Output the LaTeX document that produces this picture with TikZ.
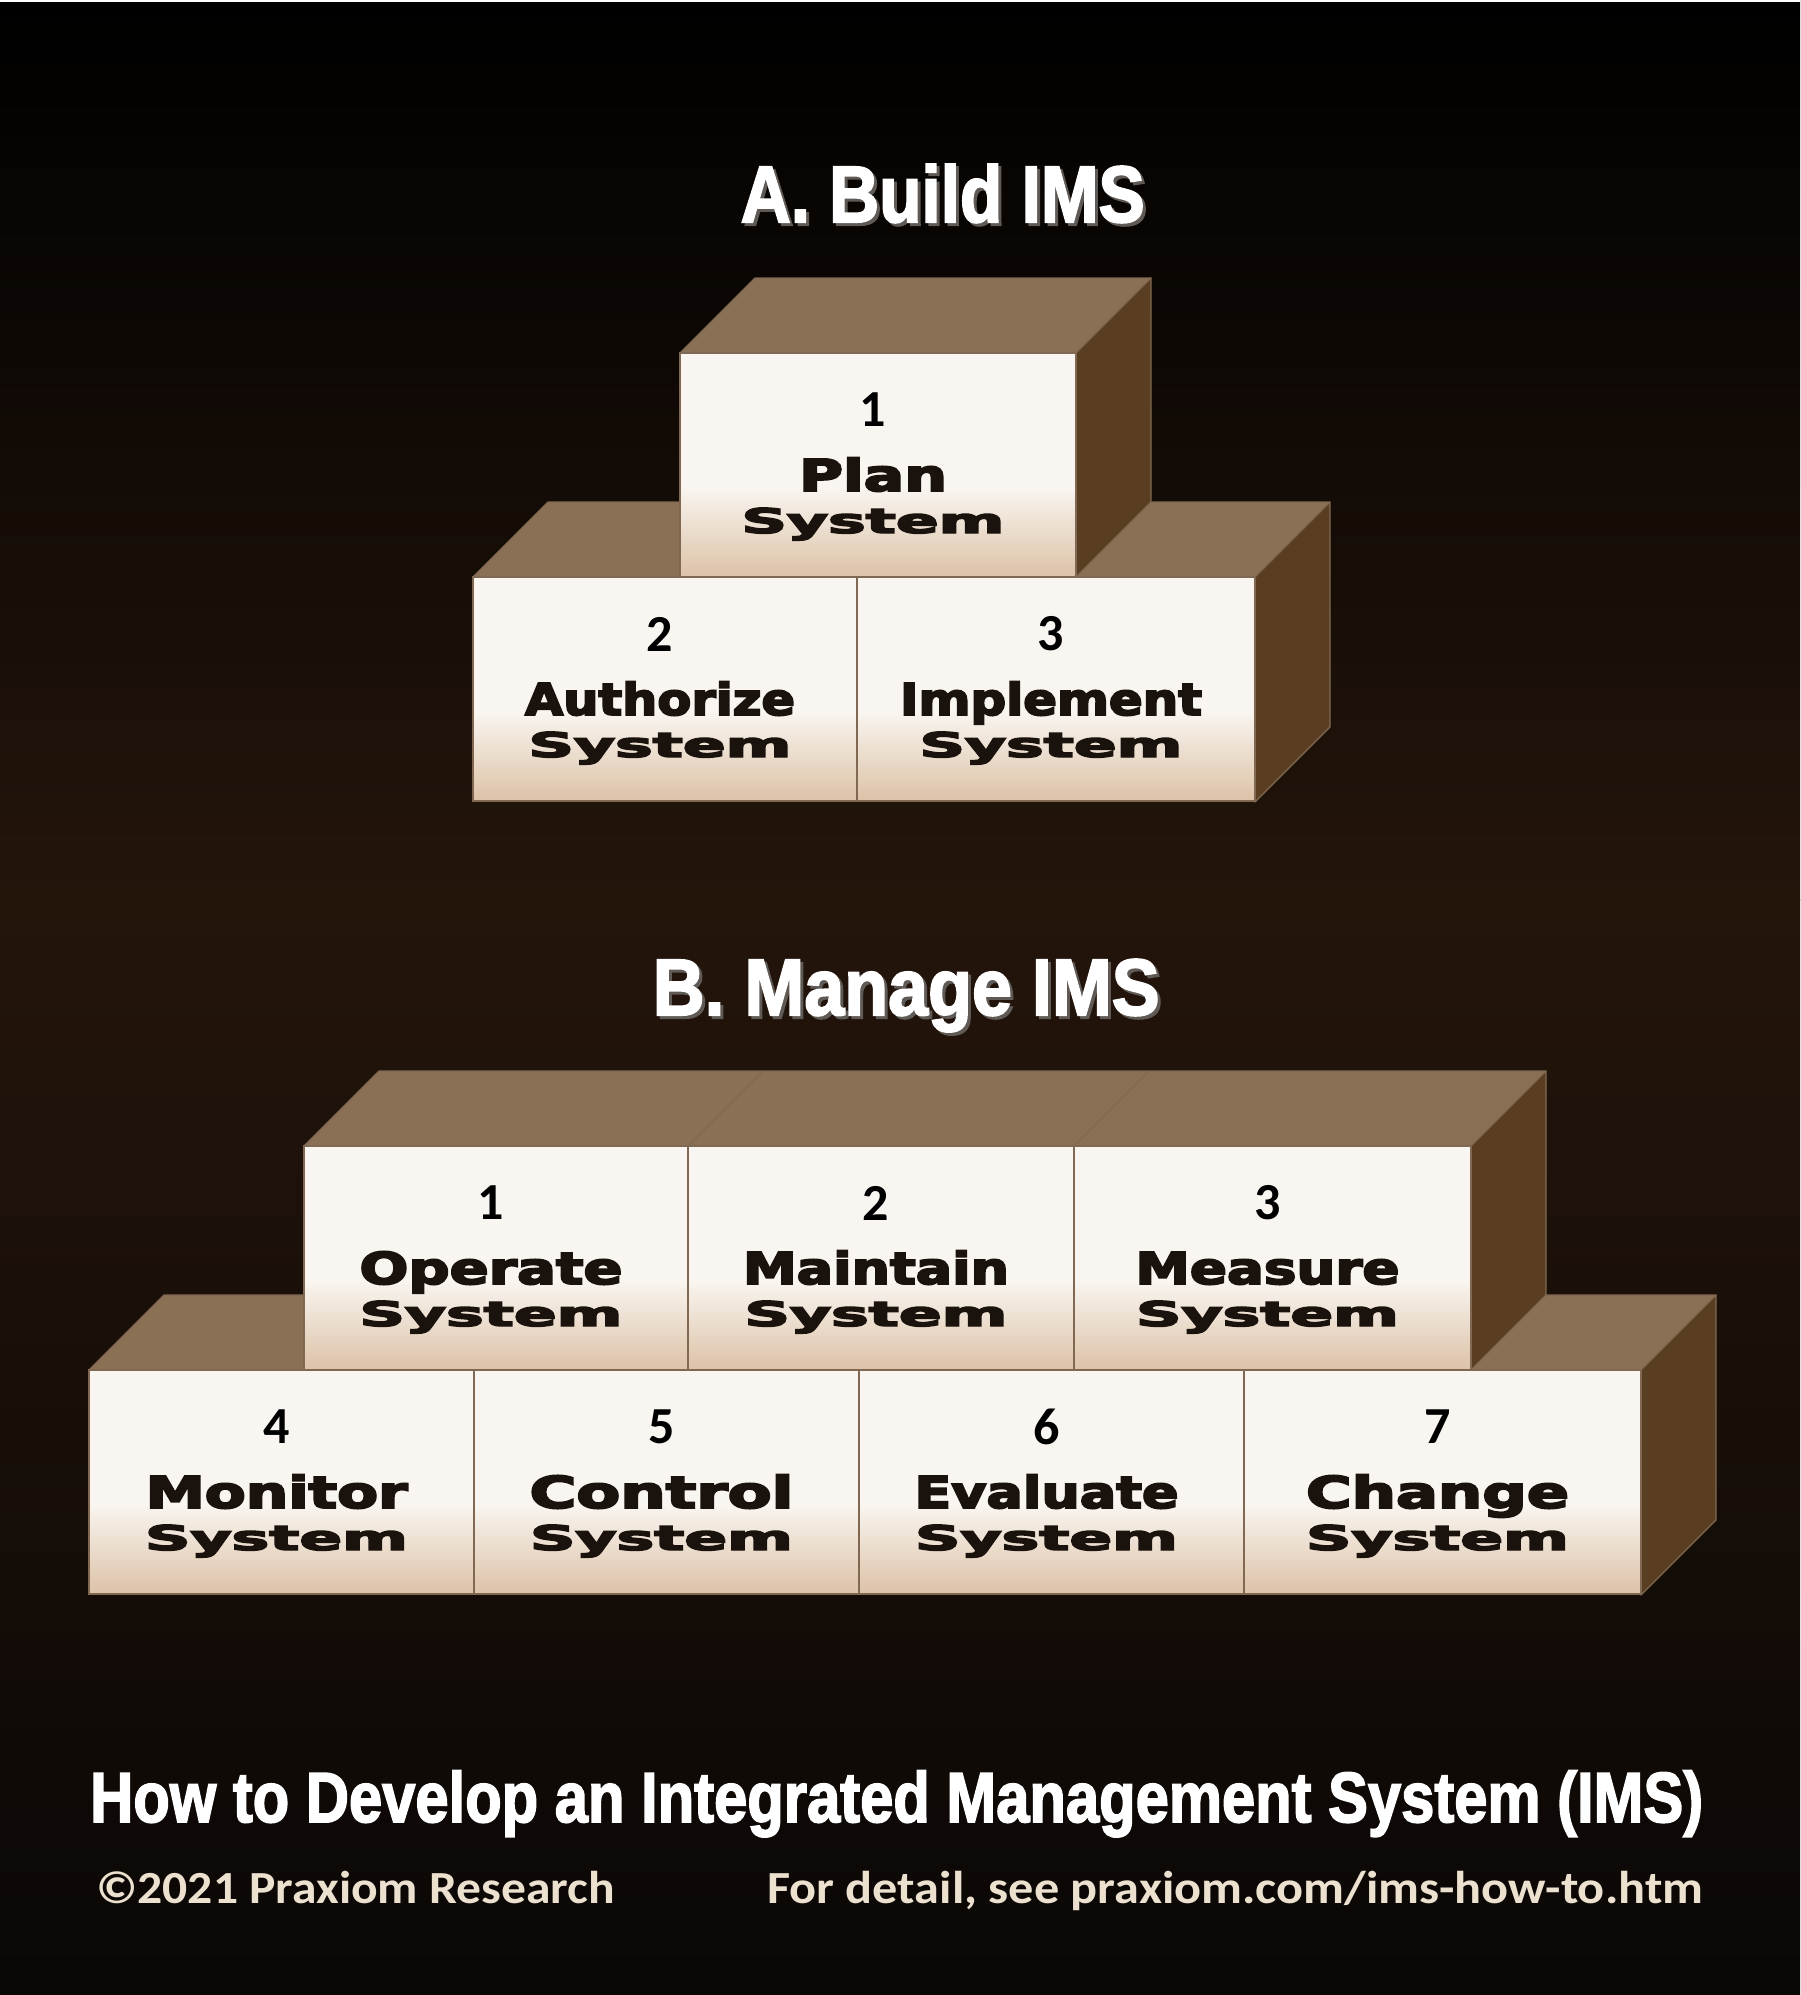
\documentclass[tikz,border=0pt]{standalone}
\usepackage{fontspec}
\usetikzlibrary{calc}
\newfontfamily\wordfont[BoldFeatures={FakeBold=4}]{DejaVu Sans}
\newfontfamily\numfont{Carlito}
\newfontfamily\titlefont[BoldFeatures={FakeBold=2.5}]{Liberation Sans}
\definecolor{topface}{RGB}{138,112,85}
\definecolor{sideface}{RGB}{90,62,34}
\definecolor{frontlight}{RGB}{249,245,240}
\definecolor{fronttan}{RGB}{220,194,167}
\definecolor{edgec}{RGB}{128,104,82}
\definecolor{txt}{RGB}{26,18,12}
\definecolor{bgmid}{RGB}{36,21,11}
\definecolor{bgmidb}{RGB}{30,17,9}
\definecolor{bgbot}{RGB}{10,7,5}
\definecolor{foot}{RGB}{236,224,206}
\definecolor{shadowc}{RGB}{95,90,85}
\pgfdeclareverticalshading{frontshade}{100bp}{color(0bp)=(fronttan); color(25bp)=(fronttan); color(45bp)=(frontlight); color(100bp)=(frontlight)}
\tikzset{
  front/.style={shading=frontshade, draw=edgec, line width=1.3pt, inner sep=0pt, outer sep=0pt, minimum height=224pt},
  topf/.style={fill=topface, draw=edgec, line width=1.2pt, line join=round},
  sidef/.style={fill=sideface, draw=edgec, line width=1.2pt, line join=round},
  numtxt/.style={inner sep=0pt, text=black, font={\numfont\bfseries\fontsize{52pt}{56pt}\selectfont}},
  wordtxt/.style={inner sep=0pt, anchor=base, text=txt, font={\wordfont\bfseries\fontsize{44pt}{50pt}\selectfont}},
  systxt/.style={inner sep=0pt, anchor=base, text=txt, font={\wordfont\bfseries\fontsize{34pt}{40pt}\selectfont}},
  titletxt/.style={inner sep=0pt, anchor=base west, text=white, font={\titlefont\bfseries\fontsize{80pt}{90pt}\selectfont}},
  foottitle/.style={inner sep=0pt, anchor=base west, text=white, font={\titlefont\bfseries\fontsize{71pt}{80pt}\selectfont}},
  footsmall/.style={inner sep=0pt, anchor=base west, text=foot, font={\numfont\bfseries\fontsize{46pt}{52pt}\selectfont}}
}
% #1 name, #2 x1, #3 x2, #4 ytop, #5 number, #6 word, #7 word width
\newcommand\cubefront[7]{%
  \node[front, minimum width={(#3-#2)*1pt}, anchor=north west] (#1) at (#2,#4) {};
  \node[numtxt] (#1n) at ($(#1.north)+(-5,57)$) {#5};
  \node[wordtxt] (#1w) at ($(#1.north)+(-5,138)$) {\resizebox{#7pt}{\height}{#6}};
  \node[systxt] (#1s) at ($(#1.north)+(-5,180)$) {\resizebox{263pt}{\height}{System}};
}
\begin{document}
\begin{tikzpicture}[x=1pt,y=-1pt]
\useasboundingbox (0,0) rectangle (1800,1995);
% background
\shade[top color=black, bottom color=bgmid] (0,0) rectangle (1800,900);
\shade[top color=bgmid, middle color=bgmidb, bottom color=bgbot] (0,899) rectangle (1800,1995);
\draw[white, line width=2pt] (0,1) -- (1800,1);

% ---------- A. Build IMS ----------
\node[titletxt, text=shadowc] (tashadow) at (743.5,225) {\resizebox{404pt}{\height}{A. Build IMS}};
\node[titletxt] (ta) at (740.5,222) {\resizebox{404pt}{\height}{A. Build IMS}};

% lower row back faces
\draw[topf] (473,577) -- (548,502) -- (1330,502) -- (1255,577) -- cycle;
\draw[sidef] (1255,577) -- (1330,502) -- (1330,727) -- (1255,802) -- cycle;
% Plan box
\draw[topf] (680,353) -- (755,278) -- (1151,278) -- (1076,353) -- cycle;
\draw[sidef] (1076,353) -- (1151,278) -- (1151,502) -- (1076,577) -- cycle;
\cubefront{a1}{680}{1076}{353}{1}{Plan}{148}
% lower row fronts
\cubefront{a2}{473}{857}{577}{2}{Authorize}{270}
\cubefront{a3}{857}{1255}{577}{3}{Implement}{302}

% ---------- B. Manage IMS ----------
\node[titletxt, text=shadowc] (tbshadow) at (655.5,1018) {\resizebox{507pt}{\height}{B. Manage IMS}};
\node[titletxt] (tb) at (652.5,1015) {\resizebox{507pt}{\height}{B. Manage IMS}};

% bottom row back faces
\draw[topf] (89,1370) -- (164,1295) -- (1716,1295) -- (1641,1370) -- cycle;
\draw[sidef] (1641,1370) -- (1716,1295) -- (1716,1520) -- (1641,1595) -- cycle;
% top row
\draw[topf] (304,1146) -- (379,1071) -- (1546,1071) -- (1471,1146) -- cycle;
\draw[edgec, line width=1.2pt] (688,1146) -- (763,1071);
\draw[edgec, line width=1.2pt] (1074,1146) -- (1149,1071);
\draw[sidef] (1471,1146) -- (1546,1071) -- (1546,1295) -- (1471,1370) -- cycle;
\cubefront{b1}{304}{688}{1146}{1}{Operate}{263}
\cubefront{b2}{688}{1074}{1146}{2}{Maintain}{266}
\cubefront{b3}{1074}{1471}{1146}{3}{Measure}{264}
% bottom row fronts
\cubefront{b4}{89}{474}{1370}{4}{Monitor}{262}
\cubefront{b5}{474}{859}{1370}{5}{Control}{264}
\cubefront{b6}{859}{1244}{1370}{6}{Evaluate}{264}
\cubefront{b7}{1244}{1641}{1370}{7}{Change}{263}

% ---------- footer ----------
\node[foottitle] (ft) at (90,1822) {\resizebox{1613pt}{\height}{How to Develop an Integrated Management System (IMS)}};
\node[footsmall] (fl) at (96,1903) {\resizebox{519pt}{\height}{©2021 Praxiom Research}};
\node[footsmall] (fr) at (767,1903) {\resizebox{936pt}{\height}{For detail, see praxiom.com/ims-how-to.htm}};
\end{tikzpicture}
\end{document}
